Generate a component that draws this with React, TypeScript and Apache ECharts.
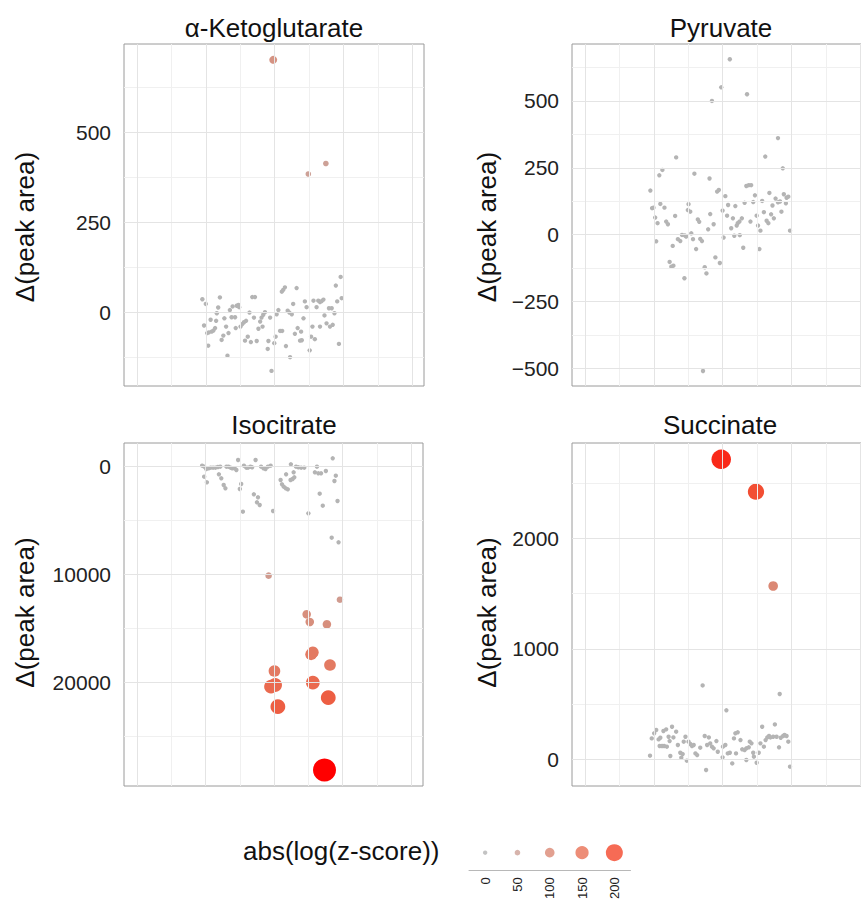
import React, { useEffect, useRef } from "react";
import * as echarts from "echarts";

// ---------- DATA (x = sample index position, y = Δ(peak area), z = abs(log(z-score))) ----------
const akgBackground: [number, number][] = [
  [1.9, 36], [2.0, 23], [1.95, -37], [2.04, -58], [2.09, -56], [2.14, -21], [2.17, -54], [2.22, -51],
  [2.27, -44], [2.3, -24], [2.32, -3], [2.36, 13], [2.41, 41], [2.07, -93], [2.46, -77], [2.51, -65],
  [2.54, -17], [2.59, -40], [2.63, -121], [2.66, -58], [2.7, 6], [2.75, -14], [2.78, 16], [2.85, -14],
  [2.87, -44], [2.9, 18], [2.95, 20], [2.97, 14], [3.01, -40], [3.06, -33], [3.11, -28], [3.14, -79],
  [3.17, -24], [3.22, -68], [3.27, -1], [3.31, -83], [3.35, 42], [3.43, 42], [3.4, -15], [3.48, -80],
  [3.53, -46], [3.58, -26], [3.62, -15], [3.65, -40], [3.67, -7], [3.72, 0], [3.82, -80], [3.8, -102],
  [3.87, -15], [3.91, -163], [3.99, -86], [4.03, -68], [4.06, -6], [4.11, 6], [4.16, -52], [4.22, -52],
  [4.21, 57], [4.25, 62], [4.3, 69], [4.33, -94], [4.38, 4], [4.43, -1], [4.45, -125], [4.5, -6],
  [4.54, 23], [4.59, -60], [4.64, 67], [4.67, -44], [4.74, -79], [4.79, -78], [4.77, -54], [4.84, -17],
  [4.88, 30], [4.93, 14], [5.02, -106], [5.06, -68], [5.1, -40], [5.13, 32], [5.17, -75], [5.22, 14],
  [5.27, 32], [5.32, -40], [5.32, 28], [5.37, 31], [5.42, 35], [5.45, -9], [5.51, -31], [5.58, 11],
  [5.61, -40], [5.66, 11], [5.69, -35], [5.74, -3], [5.78, 74], [5.82, 30], [5.87, -88], [5.92, 98],
  [5.95, 39],
];
const akgHighlight: [number, number, number][] = [
  [3.96, 701, 79], [4.98, 384, 50], [5.49, 413, 50],
];

const pyrBackground: [number, number][] = [
  [4.21, 656], [3.96, 551], [3.69, 500], [4.71, 525], [5.61, 361], [2.65, 289], [5.24, 292], [2.25, 242],
  [2.16, 222], [3.18, 228], [3.62, 210], [5.75, 248], [1.9, 165], [3.84, 161], [3.89, 167], [4.69, 182],
  [4.76, 185], [4.83, 185], [4.08, 144], [4.94, 147], [5.36, 156], [5.78, 151], [5.54, 135], [5.86, 138],
  [5.91, 142], [2.19, 115], [2.31, 101], [1.95, 99], [1.99, 101], [3.01, 114], [4.16, 111], [4.37, 107],
  [4.64, 119], [4.89, 122], [5.15, 126], [5.45, 109], [5.61, 121], [5.67, 124], [5.84, 117],
  [2.99, 92], [3.06, 86], [2.04, 64], [2.11, 43], [2.36, 49], [2.41, 39], [2.62, 70], [3.28, 57],
  [3.32, 48], [3.64, 77], [3.74, 39], [3.58, 20], [4.0, 90], [4.13, 71], [4.3, 61], [4.44, 43],
  [4.49, 49], [4.41, 34], [4.25, 24], [4.56, 61], [4.81, 49], [4.99, 71], [5.03, 34], [5.1, 15],
  [5.2, 84], [5.28, 52], [5.33, 43], [5.41, 76], [5.49, 61], [5.71, 86], [5.96, 15], [2.07, -25],
  [2.55, -42], [2.7, -17], [2.77, -24], [2.82, -1], [2.9, -3], [2.94, -7], [3.09, 5], [3.14, -17],
  [3.35, -16], [3.4, -24], [3.23, -54], [4.03, -11], [4.34, -4], [4.5, -2], [4.6, -49], [5.07, -54],
  [3.79, -85], [3.92, -106], [2.46, -102], [2.51, -120], [2.57, -116], [3.48, -122], [3.53, -145],
  [2.89, -163], [3.43, -510],
];
const pyrHighlight: [number, number, number][] = [];

const isoBackground: [number, number][] = [
  [1.9, -96], [1.96, -3], [2.02, 214], [2.09, 152], [2.15, 90], [2.22, 90], [2.29, 90], [2.36, 28],
  [2.43, -3], [1.96, 926], [2.04, 1452], [2.39, 709], [2.46, 1080], [2.53, 1700], [2.58, 2009], [2.61, -3],
  [2.67, -3], [2.73, 90], [2.78, 152], [2.85, 152], [2.9, 307], [2.95, -622], [3.0, 2071], [3.04, 1607],
  [3.09, 4176], [3.12, -96], [3.19, 90], [3.24, 90], [3.31, -3], [3.36, 59], [3.46, -622], [3.41, 2566],
  [3.53, 2845], [3.5, 3309], [3.58, 3557], [3.62, -3], [3.69, 152], [3.75, 214], [3.82, -3], [3.9, -96],
  [3.97, 4114], [4.19, 1235], [4.23, 1638], [4.28, 1854], [4.34, 2009], [4.4, 2102], [4.35, 709], [4.48, 1235],
  [4.54, 1142], [4.59, 988], [4.57, 523], [4.49, -219], [4.64, -3], [4.71, 59], [4.79, 90], [4.88, 90],
  [5.0, 4330], [5.25, -3], [5.19, 523], [5.29, 616], [5.37, 616], [5.51, 400], [5.33, 2504], [5.42, 3618],
  [5.71, -776], [5.8, 833], [5.76, 1328], [5.85, 3185], [5.68, 6590], [5.88, 7023],
];
const isoHighlight: [number, number, number][] = [
  [3.84, 10118, 62], [5.92, 12350, 62], [4.95, 13708, 87], [5.04, 14420, 87], [5.54, 14636, 87],
  [5.13, 17236, 129], [5.08, 17422, 129], [5.63, 18412, 129], [4.01, 18970, 129], [4.03, 20270, 157],
  [3.91, 20424, 157], [5.13, 20053, 157], [5.58, 21445, 171], [4.11, 22281, 171], [5.47, 28162, 285],
];

const sucBackground: [number, number][] = [
  [3.42, 668], [5.66, 590], [4.11, 442], [1.89, 30], [1.94, 187], [2.01, 233], [2.07, 263], [2.14, 178],
  [2.19, 193], [2.17, 118], [2.24, 118], [2.3, 118], [2.38, 112], [2.28, 254], [2.36, 269], [2.46, 163],
  [2.43, 202], [2.53, 293], [2.57, 196], [2.65, 248], [2.7, 127], [2.48, 27], [2.77, 57], [2.8, 12],
  [2.84, 45], [2.92, 202], [2.87, 157], [3.01, 157], [3.06, 136], [3.11, 118], [3.16, 127], [2.96, -15],
  [3.21, 51], [3.26, 36], [3.35, 103], [3.48, 209], [3.6, 196], [3.52, -100], [3.55, 127], [3.64, 142],
  [3.69, 112], [3.74, 97], [3.82, 163], [3.86, 66], [4.0, 15], [4.01, 112], [4.08, 127], [4.15, 51],
  [4.21, 57], [4.28, -40], [4.33, 187], [4.37, 233], [4.44, 242], [4.39, 51], [4.52, 172], [4.57, 88],
  [4.64, 82], [4.69, 97], [4.76, 106], [4.69, -9], [4.79, 157], [4.84, 142], [4.89, 57], [4.91, 21],
  [4.99, -34], [5.05, 57], [5.1, 142], [5.15, 293], [5.2, 112], [5.25, 172], [5.3, 196], [5.35, 209],
  [5.39, 196], [5.47, 202], [5.52, 314], [5.57, 202], [5.64, 106], [5.69, 193], [5.76, 209], [5.8, 218],
  [5.86, 209], [5.91, 157], [5.96, -70],
];
const sucHighlight: [number, number, number][] = [
  [3.96, 2720, 235], [4.97, 2426, 190], [5.47, 1570, 100],
];

const akgMajor = [0, 250, 500];
const akgMinor = [-125, 125, 375, 625];
const pyrMajor = [-500, -250, 0, 250, 500];
const pyrMinor = [-375, -125, 125, 375, 625];
const isoMajor = [0, 10000, 20000];
const isoMinor = [5000, 15000, 25000];
const sucMajor = [0, 1000, 2000];
const sucMinor = [500, 1500, 2500];

const xGridMajor = [0, 2, 4, 6, 8];
const xGridMinor = [1, 3, 5, 7];

const legendBreaks = [0, 50, 100, 150, 200];
const legendTitle = "abs(log(z-score))";
const yName = "Δ(peak area)";

// ---------- STYLE ----------
const FONT = '"Liberation Sans", Arial, Helvetica, sans-serif';
const colorStops: [number, string][] = [
  [0, "#b4b4b4"], [50, "#cda197"], [100, "#db8874"], [150, "#e87055"], [200, "#f4462b"], [285, "#ff0000"],
];
const sizeStops: [number, number][] = [
  [0, 4.4], [50, 5.6], [100, 9.6], [150, 13.2], [200, 17], [285, 23],
];

function hexToRgb(h: string) {
  const n = parseInt(h.slice(1), 16);
  return [(n >> 16) & 255, (n >> 8) & 255, n & 255];
}
function colorFor(z: number) {
  if (z <= colorStops[0][0]) return colorStops[0][1];
  for (let i = 1; i < colorStops.length; i++) {
    if (z <= colorStops[i][0]) {
      const [z0, c0] = colorStops[i - 1];
      const [z1, c1] = colorStops[i];
      const t = (z - z0) / (z1 - z0);
      const a = hexToRgb(c0), b = hexToRgb(c1);
      const c = a.map((v, k) => Math.round(v + (b[k] - v) * t));
      return `rgb(${c[0]},${c[1]},${c[2]})`;
    }
  }
  return colorStops[colorStops.length - 1][1];
}
function sizeFor(z: number) {
  if (z <= sizeStops[0][0]) return sizeStops[0][1];
  for (let i = 1; i < sizeStops.length; i++) {
    if (z <= sizeStops[i][0]) {
      const [z0, s0] = sizeStops[i - 1];
      const [z1, s1] = sizeStops[i];
      return s0 + ((s1 - s0) * (z - z0)) / (z1 - z0);
    }
  }
  return sizeStops[sizeStops.length - 1][1];
}

const X_MIN = -0.378;
const X_MAX = 8.343;

const panels = [
  { title: "α-Ketoglutarate", tx: 274, ty: 28, bg: akgBackground, hi: akgHighlight, yMin: -205, yMax: 745, inverse: false, major: akgMajor, minor: akgMinor, grid: { left: 124, top: 44, width: 300, height: 342 }, nameGap: 86, namePad: [0, 24, 0, 0] },
  { title: "Pyruvate", tx: 721, ty: 28, bg: pyrBackground, hi: pyrHighlight, yMin: -566, yMax: 713, inverse: false, major: pyrMajor, minor: pyrMinor, grid: { left: 572, top: 44, width: 300, height: 342 }, nameGap: 72, namePad: [0, 24, 0, 0] },
  { title: "Isocitrate", tx: 284, ty: 425, bg: isoBackground, hi: isoHighlight, yMin: -2200, yMax: 29650, inverse: true, major: isoMajor, minor: isoMinor, grid: { left: 124, top: 443, width: 299, height: 343 }, nameGap: 86, namePad: [0, 0, 0, 4] },
  { title: "Succinate", tx: 720, ty: 425, bg: sucBackground, hi: sucHighlight, yMin: -245, yMax: 2868, inverse: false, major: sucMajor, minor: sucMinor, grid: { left: 572, top: 443, width: 300, height: 343 }, nameGap: 72, namePad: [0, 0, 0, 4] },
];

export default function App() {
  const ref = useRef<HTMLDivElement>(null);
  useEffect(() => {
    if (!ref.current) return;
    const chart = echarts.init(ref.current, undefined, { renderer: "svg" });
    const grids: any[] = [];
    const xAxes: any[] = [];
    const yAxes: any[] = [];
    const series: any[] = [];
    const graphics: any[] = [];
    const fmt = (v: number) => String(v).replace("-", "\u2212");

    panels.forEach((p, i) => {
      grids.push({ ...p.grid, show: true, borderColor: "#9a9a9a", borderWidth: 1, backgroundColor: "#fff", containLabel: false });
      xAxes.push({
        type: "value", gridIndex: i, min: X_MIN, max: X_MAX,
        axisLine: { show: false }, axisTick: { show: false }, axisLabel: { show: false }, splitLine: { show: false },
      });
      yAxes.push({
        type: "value", gridIndex: i, min: p.yMin, max: p.yMax, inverse: p.inverse,
        name: yName, nameLocation: "middle", nameGap: p.nameGap,
        nameTextStyle: { fontSize: 26, color: "#111", fontFamily: FONT, padding: p.namePad },
        axisLine: { show: false },
        axisTick: { show: true, customValues: p.major, length: 7, lineStyle: { color: "#333", width: 1 } },
        axisLabel: { show: true, customValues: p.major, formatter: fmt, fontSize: 21, color: "#222", fontFamily: FONT, margin: 13 },
        splitLine: { show: false },
      });
      series.push({
        type: "scatter", xAxisIndex: i, yAxisIndex: i, data: [], z: 1, silent: true,
        markLine: {
          silent: true, symbol: ["none", "none"], animation: false, label: { show: false },
          emphasis: { disabled: true },
          data: [
            ...xGridMinor.map((v) => ({ xAxis: v, lineStyle: { color: "#f0f0f0", width: 1, type: "solid" } })),
            ...p.minor.map((v) => ({ yAxis: v, lineStyle: { color: "#f0f0f0", width: 1, type: "solid" } })),
            ...xGridMajor.map((v) => ({ xAxis: v, lineStyle: { color: "#e4e4e4", width: 1, type: "solid" } })),
            ...p.major.map((v) => ({ yAxis: v, lineStyle: { color: "#e4e4e4", width: 1, type: "solid" } })),
          ],
        },
      });
      series.push({
        type: "scatter", xAxisIndex: i, yAxisIndex: i, z: 3,
        data: [...p.bg.map(([x, y]) => [x, y, 0]), ...p.hi],
        symbolSize: (v: number[]) => sizeFor(v[2]),
        itemStyle: { color: (prm: any) => colorFor(prm.value[2]), opacity: 1 },
        emphasis: { disabled: true },
      });
      graphics.push({
        type: "text", x: p.tx, y: p.ty,
        style: { text: p.title, font: `26px ${FONT}`, fill: "#111", textAlign: "center", textVerticalAlign: "middle" },
      });
    });

    // size/colour legend drawn as its own small axis
    const li = panels.length;
    grids.push({ left: 469, top: 835, width: 161.5, height: 36, show: false });
    xAxes.push({
      type: "category", gridIndex: li, data: legendBreaks.map(String),
      axisLine: { show: true, lineStyle: { color: "#b8b8b8", width: 1 } },
      axisTick: { show: false },
      axisLabel: { rotate: 90, fontSize: 13, color: "#222", fontFamily: FONT, margin: 7 },
      splitLine: { show: false },
    });
    yAxes.push({ type: "value", gridIndex: li, min: 0, max: 1, show: false });
    series.push({
      type: "scatter", xAxisIndex: li, yAxisIndex: li, z: 3,
      data: legendBreaks.map((b, k) => [k, 0.5, b]),
      symbolSize: (v: number[]) => sizeFor(v[2]),
      itemStyle: { color: (prm: any) => colorFor(prm.value[2]) },
      emphasis: { disabled: true },
    });
    graphics.push({
      type: "text", x: 243, y: 851,
      style: { text: legendTitle, font: `26px ${FONT}`, fill: "#111", textAlign: "left", textVerticalAlign: "middle" },
    });

    chart.setOption({
      animation: false,
      backgroundColor: "#fff",
      grid: grids,
      xAxis: xAxes,
      yAxis: yAxes,
      series,
      graphic: graphics,
    });
    return () => chart.dispose();
  }, []);

  return (
    <div style={{ position: "fixed", left: 0, top: 0, width: 861, height: 902, overflow: "hidden", background: "#fff" }}>
      <div ref={ref} style={{ width: 880, height: 902 }} />
    </div>
  );
}
